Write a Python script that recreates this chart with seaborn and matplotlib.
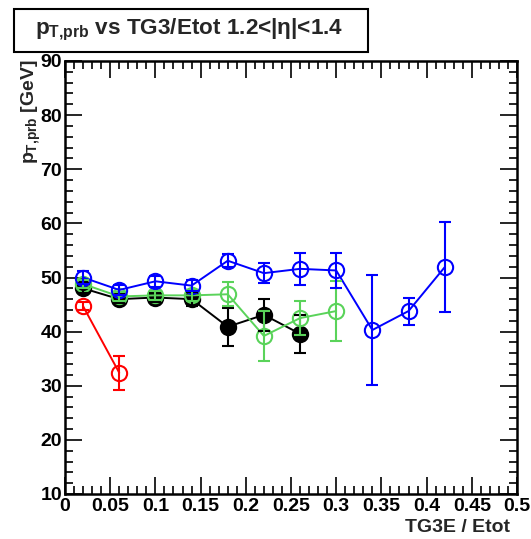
import numpy as np
import pandas as pd
import matplotlib
matplotlib.use("Agg")
import matplotlib.pyplot as plt
from matplotlib.ticker import MultipleLocator
from matplotlib.patches import Rectangle
import seaborn as sns

# ---- data ----
x_black = [0.02, 0.06, 0.10, 0.14, 0.18, 0.22, 0.26]
y_black = [48.0, 46.0, 46.3, 46.0, 40.9, 43.1, 39.6]
e_black = [0.8, 0.8, 0.8, 1.3, 3.5, 3.0, 3.5]

x_green = [0.02, 0.06, 0.10, 0.14, 0.18, 0.22, 0.26, 0.30]
y_green = [48.8, 46.5, 46.7, 46.7, 46.9, 39.2, 42.5, 43.8]
e_green = [0.8, 0.8, 0.8, 1.0, 2.2, 4.7, 3.2, 5.6]

x_blue = [0.02, 0.06, 0.10, 0.14, 0.18, 0.22, 0.26, 0.30, 0.34, 0.38, 0.42]
y_blue = [50.0, 47.7, 49.3, 48.5, 53.1, 50.8, 51.6, 51.3, 40.3, 43.8, 51.9]
e_blue = [1.2, 1.0, 1.0, 1.0, 1.2, 1.9, 3.0, 3.2, 10.2, 2.5, 8.3]

x_red = [0.02, 0.06]
y_red = [44.7, 32.4]
e_red = [0.7, 3.1]

x_ticks = [0, 0.05, 0.1, 0.15, 0.2, 0.25, 0.3, 0.35, 0.4, 0.45, 0.5]
x_ticklabels = ["0", "0.05", "0.1", "0.15", "0.2", "0.25", "0.3", "0.35", "0.4", "0.45", "0.5"]
y_ticks = [10, 20, 30, 40, 50, 60, 70, 80, 90]

sns.set_theme(style="white")
plt.rcParams["font.family"] = ["Liberation Sans", "DejaVu Sans"]
plt.rcParams["font.weight"] = "bold"
plt.rcParams["mathtext.fontset"] = "custom"
plt.rcParams["mathtext.rm"] = "Liberation Sans:bold"
plt.rcParams["mathtext.it"] = "Liberation Sans:bold"
plt.rcParams["mathtext.bf"] = "Liberation Sans:bold"

fig = plt.figure(figsize=(5.31, 5.39), dpi=100)
ax = fig.add_axes([65/531, 45/539, (517-65)/531, (494-61)/539])

series = [
    (x_black, y_black, e_black, "black", True),
    (x_green, y_green, e_green, "#5ad35a", False),
    (x_blue, y_blue, e_blue, "#0000ff", False),
    (x_red, y_red, e_red, "#ff0000", False),
]
for xs, ys, es, col, filled in series:
    df = pd.DataFrame({"x": xs, "y": ys})
    sns.lineplot(data=df, x="x", y="y", ax=ax, color=col, lw=1.4,
                 marker="o", markersize=11,
                 markerfacecolor=col if filled else "none",
                 markeredgecolor=col, markeredgewidth=1.5, zorder=3)
    ax.errorbar(xs, ys, yerr=es, fmt="none", ecolor=col, elinewidth=1.5,
                capsize=4, capthick=1.5, zorder=4)

ax.set_xlim(0, 0.5)
ax.set_ylim(10, 90)
ax.set_xticks(x_ticks)
ax.set_xticklabels(x_ticklabels)
ax.set_yticks(y_ticks)
ax.xaxis.set_minor_locator(MultipleLocator(0.01))
ax.yaxis.set_minor_locator(MultipleLocator(2))
ax.tick_params(which="both", direction="in", top=True, right=True,
               bottom=True, left=True, colors="black", labelsize=14)
ax.tick_params(which="major", length=12, width=1.2)
ax.tick_params(which="minor", length=6, width=1.2)
ax.tick_params(axis="x", pad=3)
ax.tick_params(axis="y", pad=2)
for lab in ax.get_xticklabels() + ax.get_yticklabels():
    lab.set_fontweight("bold")
for s in ax.spines.values():
    s.set_color("black")
    s.set_linewidth(1.8)

ax.set_xlabel("")
ax.set_ylabel("")
fig.text(510/531, 1 - 527/539, "TG3E / Etot", ha="right", va="center",
         fontsize=14, fontweight="bold")
fig.text(31/531, 1 - 59/539, r"$p_{T{,}prb}$ [GeV]", rotation=90, ha="center",
         va="top", fontsize=14, fontweight="bold")

# title box
fig.patches.append(Rectangle((14/531, 1 - 52/539), (368-14)/531, 43/539,
                             transform=fig.transFigure, fill=True,
                             facecolor="white", edgecolor="black", lw=1.5))
fig.text(35/531, 1 - 30/539, r"$p_{T{,}prb}$ vs TG3/Etot 1.2<|$\eta$|<1.4",
         ha="left", va="center", fontsize=16.2, fontweight="bold")

fig.savefig("out.png", dpi=100)
